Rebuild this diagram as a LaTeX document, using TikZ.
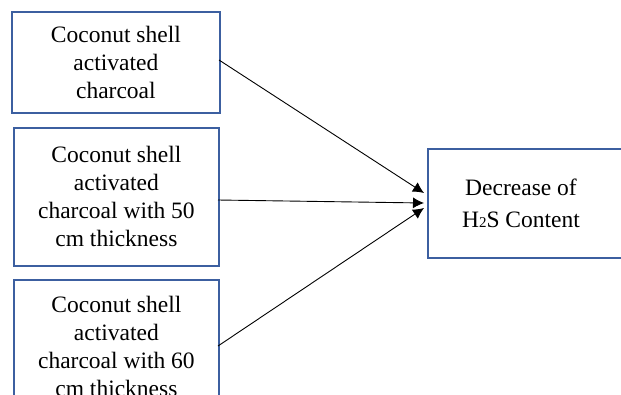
\documentclass[tikz,border=0pt]{standalone}
\usepackage{fontspec}
\setmainfont{Liberation Serif}
\usetikzlibrary{arrows.meta}
\definecolor{boxblue}{RGB}{60,95,160}
\begin{document}
\begin{tikzpicture}[x=1pt,y=-1pt,
  box/.style={draw=boxblue,line width=1.8pt,fill=white,align=center,
    font=\fontsize{23.5}{28}\selectfont,inner sep=0pt,anchor=north west},
  conn/.style={line width=0.9pt,-{Latex[length=11pt,width=11pt]}}]
\useasboundingbox (0,0) rectangle (621,394);
\clip (0,0) rectangle (621,394);
\node[box,minimum width=208pt,minimum height=101pt] (b1) at (11,11)
  {Coconut shell\\activated\\charcoal};
\node[box,minimum width=205pt,minimum height=138pt] (b2) at (13,127)
  {Coconut shell\\activated\\charcoal with 50\\cm thickness};
\node[box,minimum width=205pt,minimum height=134pt] (b3) at (13,279)
  {Coconut shell\\activated\\charcoal with 60\\cm thickness};
\node[box,minimum width=205pt,minimum height=109pt] (r) at (427,148) {};
\node[align=center,inner sep=0pt,font=\fontsize{23.5}{32}\selectfont] (rl) at (521,203)
  {Decrease of\\H{\fontsize{15}{15}\selectfont 2}S Content};
\coordinate (t1) at (424,193);
\coordinate (t2) at (424,203);
\coordinate (t3) at (424,208);
\coordinate (s1) at (219,60);
\coordinate (s2) at (218,200);
\coordinate (s3) at (218,346);
\draw[conn] (s1) -- (t1);
\draw[conn] (s2) -- (t2);
\draw[conn] (s3) -- (t3);
\end{tikzpicture}
\end{document}
